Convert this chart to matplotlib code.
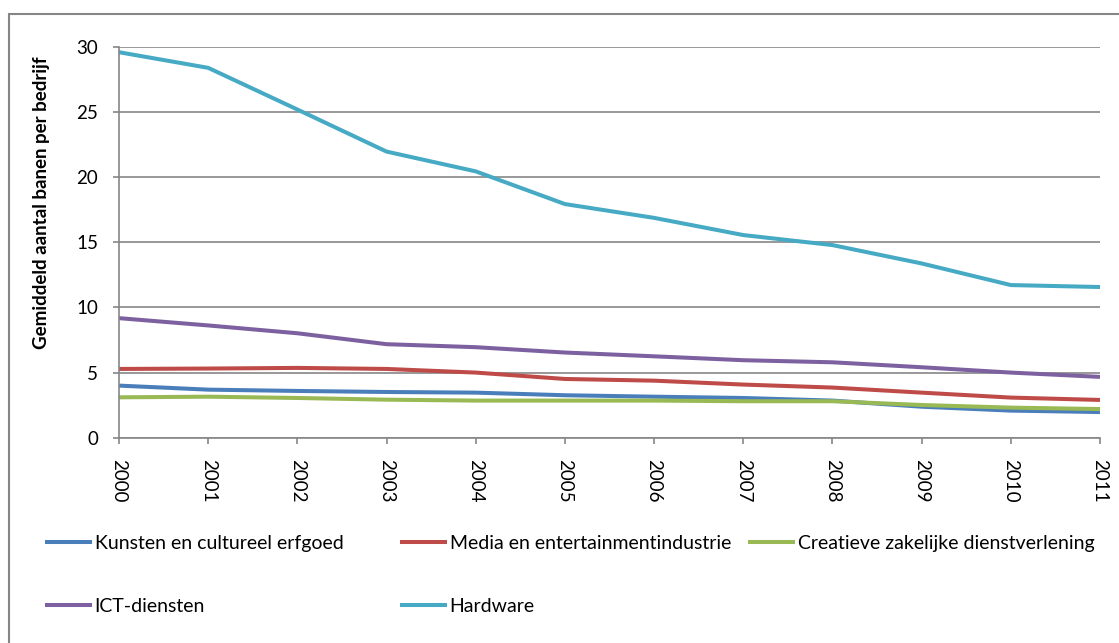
import matplotlib.pyplot as plt
from matplotlib.patches import Rectangle

# ------------------ DATA ------------------
years = [2000, 2001, 2002, 2003, 2004, 2005, 2006, 2007, 2008, 2009, 2010, 2011]

kunsten   = [4.00, 3.69, 3.59, 3.51, 3.46, 3.26, 3.15, 3.05, 2.85, 2.38, 2.08, 1.97]
media     = [5.28, 5.31, 5.36, 5.28, 5.00, 4.51, 4.38, 4.08, 3.85, 3.46, 3.08, 2.90]
creatieve = [3.10, 3.15, 3.05, 2.92, 2.85, 2.85, 2.85, 2.80, 2.80, 2.51, 2.31, 2.20]
ict       = [9.18, 8.62, 8.02, 7.18, 6.95, 6.54, 6.25, 5.95, 5.79, 5.41, 5.00, 4.67]
hardware  = [29.6, 28.4, 25.2, 21.97, 20.45, 17.94, 16.88, 15.56, 14.79, 13.38, 11.72, 11.57]

series_names = ["Kunsten en cultureel erfgoed", "Media en entertainmentindustrie",
                "Creatieve zakelijke dienstverlening", "ICT-diensten", "Hardware"]
colors = ["#4A7EBB", "#BE4B48", "#98B954", "#7D60A0", "#46AAC5"]

y_ticks = [0, 5, 10, 15, 20, 25, 30]
y_label = "Gemiddeld aantal banen per bedrijf"

# ------------------ STYLE ------------------
plt.rcParams.update({
    "font.family": ["Lato", "DejaVu Sans"],
    "font.size": 13,
})
grey = "#868686"
W, H = 1119, 643

fig = plt.figure(figsize=(W / 100, H / 100), dpi=100)
ax = fig.add_axes([119 / W, 1 - 437.7 / H, (1100 - 119) / W, (437.7 - 47) / H])

lines = []
for vals, name, c in zip([kunsten, media, creatieve, ict, hardware], series_names, colors):
    ln, = ax.plot(years, vals, color=c, lw=2.9, label=name, solid_capstyle="butt")
    lines.append(ln)

ax.set_xlim(years[0], years[-1])
ax.set_ylim(0, 30)
ax.set_yticks(y_ticks)
ax.set_xticks(years)
ax.set_xticklabels([str(y) for y in years], rotation=270)
ax.yaxis.grid(True, color=grey, lw=1.2)
ax.set_axisbelow(True)
for s in ["top", "right"]:
    ax.spines[s].set_visible(False)
for s in ["left", "bottom"]:
    ax.spines[s].set_color(grey)
    ax.spines[s].set_linewidth(1.2)
ax.tick_params(axis="both", direction="out", length=4, width=1.2, color=grey, labelsize=13.5)
ax.tick_params(axis="x", pad=11)
ax.tick_params(axis="y", pad=11)

fig.text(42 / W, 1 - 203 / H, y_label, rotation=90, ha="center", va="center",
         fontsize=13.5, fontweight="bold")

# ------------------ LEGEND (three columns) ------------------
cols = [([0, 3], 45), ([1, 4], 400), ([2], 748)]
for idx, x0 in cols:
    fig.legend([lines[i] for i in idx], [series_names[i] for i in idx],
               loc="upper left", bbox_to_anchor=(x0 / W, 1 - 535 / H),
               frameon=False, borderpad=0, borderaxespad=0,
               handlelength=2.4, handletextpad=0.15, labelspacing=2.35,
               fontsize=14)

# outer chart border
fig.add_artist(Rectangle((8.5 / W, -0.1), 1.2, 1 - 14.5 / H + 0.1, transform=fig.transFigure,
                         fill=False, edgecolor=grey, lw=1.5))

fig.savefig("out.png", dpi=100)
